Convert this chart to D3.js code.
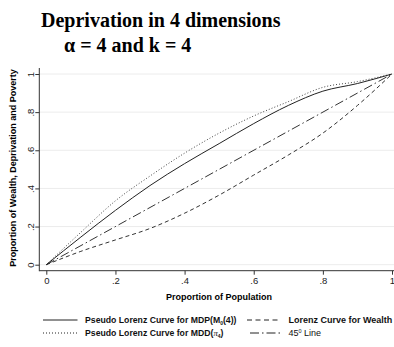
<!DOCTYPE html>
<html>
<head>
<meta charset="utf-8">
<script src="https://cdn.jsdelivr.net/npm/d3@7"></script>
<style>
  body { margin: 0; background: #fff; }
  svg { display: block; }
  .tick text { font-family: "Liberation Sans", Arial, sans-serif; }
</style>
</head>
<body>
<div id="chart"></div>
<script>
// shares of population (x) and cumulative shares (y)
const popShare    = [0, 0.1, 0.2, 0.3, 0.4, 0.5, 0.6, 0.7, 0.8, 0.9, 1];
const mdpShare    = [0, 0.145, 0.285, 0.415, 0.53, 0.635, 0.74, 0.835, 0.91, 0.95, 1];
const mddShare    = [0, 0.17, 0.335, 0.465, 0.585, 0.69, 0.78, 0.855, 0.93, 0.96, 1];
const wealthShare = [0, 0.07, 0.13, 0.19, 0.27, 0.365, 0.47, 0.575, 0.69, 0.835, 1];
const diagX = [0, 1];
const diagY = [0, 1];
const tickVals = [0, 0.2, 0.4, 0.6, 0.8, 1];
const tickLabels = ["0", ".2", ".4", ".6", ".8", "1"];

const width = 394, height = 347;
const sans = '"Liberation Sans", Arial, sans-serif';

const svg = d3.select("#chart").append("svg")
    .attr("width", width)
    .attr("height", height);

const x = d3.scaleLinear().domain([0, 1]).range([46.3, 392]);
const y = d3.scaleLinear().domain([0, 1]).range([264.7, 74]);

// title
svg.append("text")
    .attr("x", 41).attr("y", 27)
    .attr("font-family", '"Liberation Serif", "Times New Roman", serif')
    .attr("font-weight", "bold").attr("font-size", 20)
    .text("Deprivation in 4 dimensions");
svg.append("text")
    .attr("x", 64).attr("y", 52)
    .attr("font-family", '"Liberation Serif", "Times New Roman", serif')
    .attr("font-weight", "bold").attr("font-size", 20)
    .text("\u03b1 = 4 and k = 4");

// grid lines
svg.append("g").selectAll("line")
  .data(tickVals)
  .join("line")
    .attr("x1", 40).attr("x2", width)
    .attr("y1", d => y(d)).attr("y2", d => y(d))
    .attr("stroke", "#ececec").attr("stroke-width", 1);

// axes
const xAxis = svg.append("g")
    .attr("transform", "translate(0,270.7)")
    .call(d3.axisBottom(x).tickValues(tickVals).tickFormat((d, i) => tickLabels[i]).tickSize(4).tickPadding(3));
xAxis.select(".domain").attr("d", "M39.3,0H" + width);
xAxis.selectAll("text").attr("font-size", 9.5).attr("fill", "#222");

const yAxis = svg.append("g")
    .attr("transform", "translate(39.3,0)")
    .call(d3.axisLeft(y).tickValues(tickVals).tickFormat((d, i) => tickLabels[i]).tickSize(4).tickPadding(3));
yAxis.select(".domain").attr("d", "M0,68V271.2");
yAxis.selectAll("text")
    .attr("font-size", 9.5).attr("fill", "#222")
    .attr("x", 0).attr("y", 0).attr("dy", 0)
    .attr("text-anchor", "middle")
    .attr("transform", "translate(-5.5,0) rotate(-90)");
svg.selectAll(".domain, .tick line").attr("stroke", "#333");

// axis titles
svg.append("text")
    .attr("x", 219).attr("y", 300)
    .attr("text-anchor", "middle")
    .attr("font-family", sans).attr("font-weight", "bold").attr("font-size", 9)
    .text("Proportion of Population");
svg.append("text")
    .attr("transform", "translate(15.5,168) rotate(-90)")
    .attr("text-anchor", "middle")
    .attr("font-family", sans).attr("font-weight", "bold").attr("font-size", 9)
    .text("Proportion of Wealth, Deprivation and Poverty");

// curves
const line = d3.line()
    .x(d => x(d[0]))
    .y(d => y(d[1]))
    .curve(d3.curveMonotoneX);

const series = [
  { ys: wealthShare, xs: popShare, dash: "4,3", color: "#333" },
  { ys: diagY, xs: diagX, dash: "9,3,1.5,3", color: "#333" },
  { ys: mddShare, xs: popShare, dash: "1,2", color: "#444" },
  { ys: mdpShare, xs: popShare, dash: null, color: "#222" }
];

series.forEach(s => {
  svg.append("path")
    .datum(s.xs.map((v, i) => [v, s.ys[i]]))
    .attr("fill", "none")
    .attr("stroke", s.color)
    .attr("stroke-width", 1)
    .attr("stroke-dasharray", s.dash)
    .attr("d", line);
});

// legend
const legend = svg.append("g")
    .attr("font-family", sans).attr("font-weight", "bold").attr("font-size", 9).attr("fill", "#111");

function legendItem(x1, x2, yy, dash) {
  legend.append("line")
      .attr("x1", x1).attr("x2", x2).attr("y1", yy).attr("y2", yy)
      .attr("stroke", "#222").attr("stroke-width", 1)
      .attr("stroke-dasharray", dash);
  return legend.append("text").attr("x", x2 + 7.5).attr("y", yy + 3.3);
}

let t = legendItem(43, 77.5, 320, null);
t.attr("font-size", 8.7);
t.append("tspan").text("Pseudo Lorenz Curve for MDP(M");
t.append("tspan").attr("font-size", 5).attr("dy", 1.5).text("0");
t.append("tspan").attr("dy", -1.5).text("(4))");

t = legendItem(43, 77.5, 333, "1,2");
t.attr("font-size", 8.7);
t.append("tspan").text("Pseudo Lorenz Curve for MDD(");
t.append("tspan").attr("font-family", '"Liberation Serif", serif').attr("font-weight", "normal").attr("font-style", "italic").text("\u03c0");
t.append("tspan").attr("font-size", 5).attr("dy", 1.5).text("4");
t.append("tspan").attr("dy", -1.5).text(")");

t = legendItem(247, 281, 320, "5,3.5");
t.text("Lorenz Curve for Wealth");

t = legendItem(250, 281, 333, "9,3,1.5,3");
t.attr("font-weight", "normal");
t.append("tspan").text("45");
t.append("tspan").attr("font-size", 5.5).attr("dy", -3).text("0");
t.append("tspan").attr("dy", 3).text(" Line");
</script>
</body>
</html>
